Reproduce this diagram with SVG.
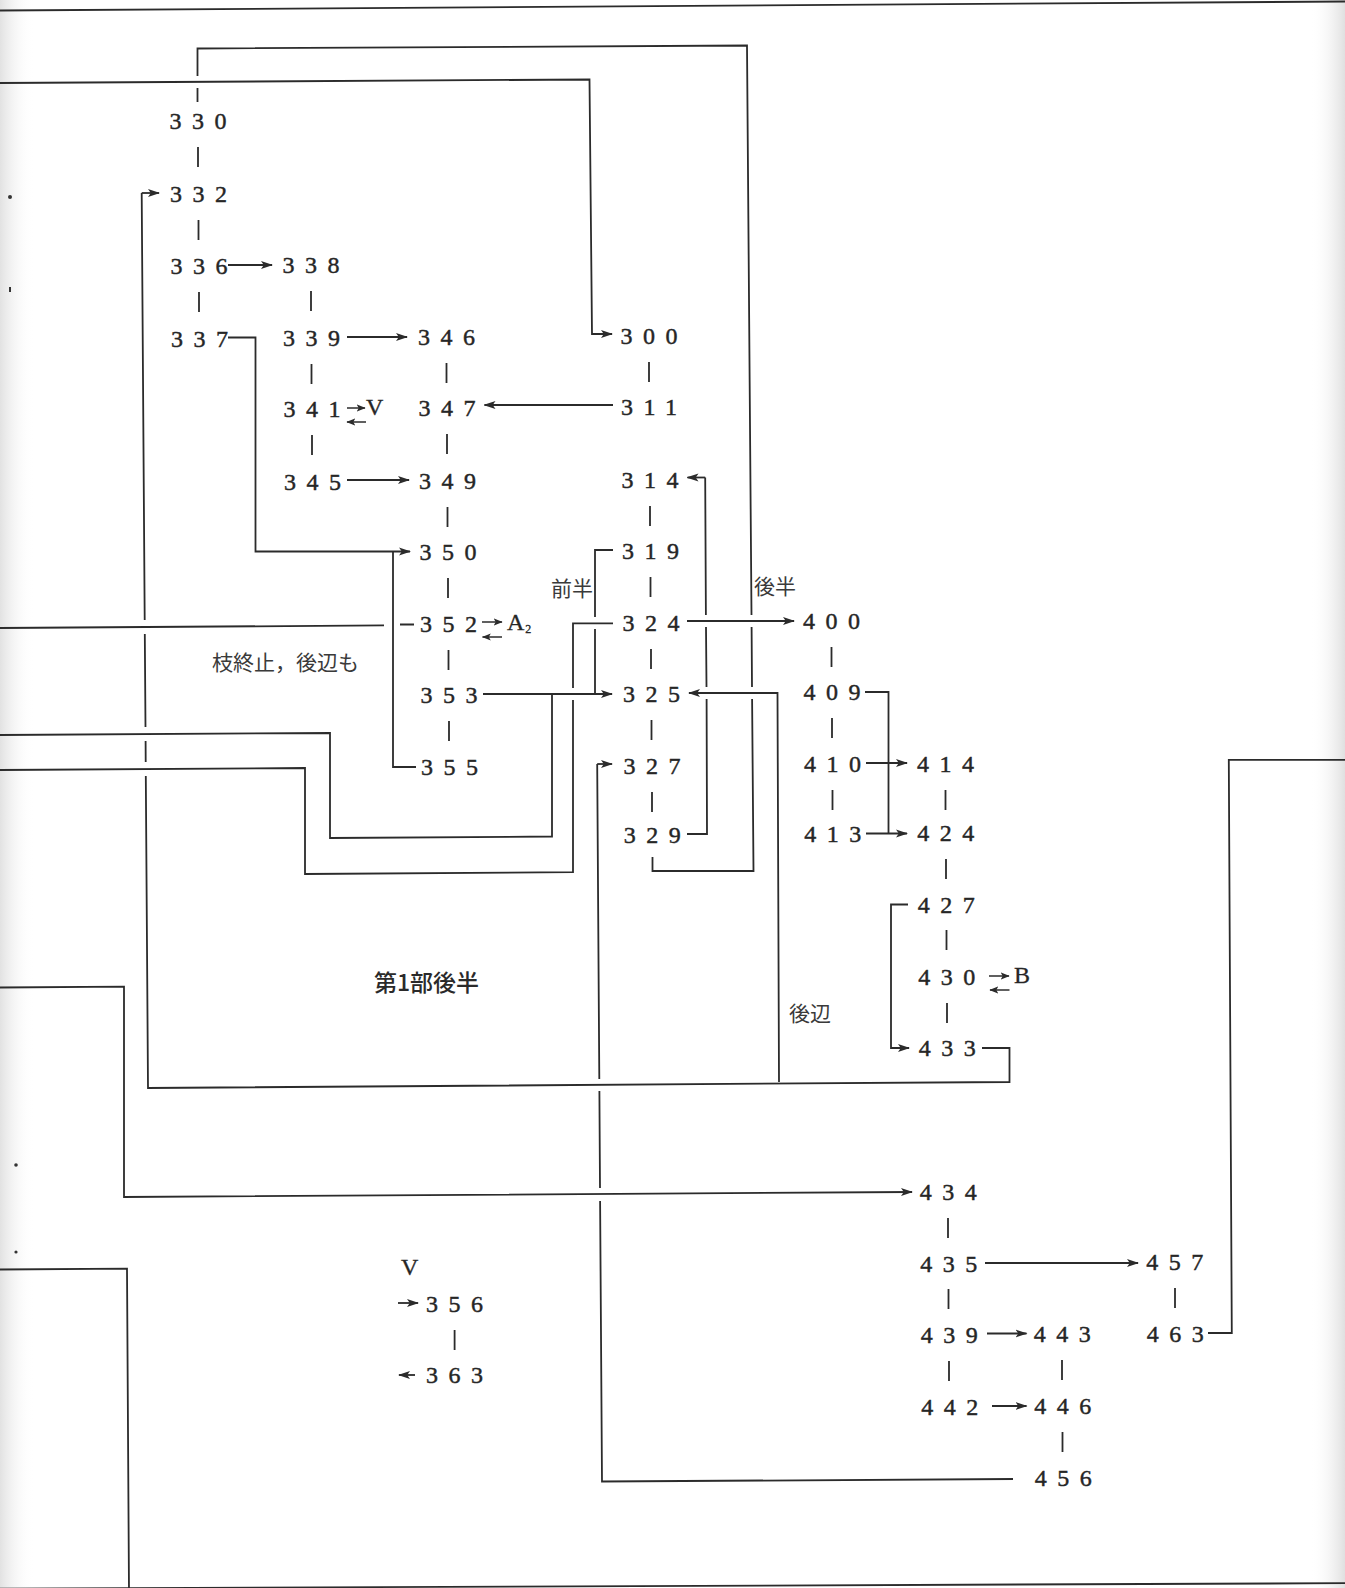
<svg xmlns="http://www.w3.org/2000/svg" width="1345" height="1588" viewBox="0 0 1345 1588">
<style>
.ln{fill:none;stroke:#2b2b2b;stroke-width:1.8}
.tk{fill:none;stroke:#2b2b2b;stroke-width:1.8}
.ar{marker-end:url(#ah)}
.sa{marker-end:url(#as)}
.sm{fill:none;stroke:#2b2b2b;stroke-width:1.5}
.node text{font-family:"Liberation Serif",serif;font-size:24px;letter-spacing:10.5px;fill:#262626;stroke:#262626;stroke-width:0.45}
.ltr{font-family:"Liberation Serif",serif;font-size:24px;fill:#262626;stroke:#262626;stroke-width:0.3}
.lbl{font-family:"Noto Sans CJK JP","Noto Sans CJK SC",sans-serif;font-size:21px;fill:#3a3a3a}
.ttl{font-family:"Noto Sans CJK JP","Noto Sans CJK SC",sans-serif;font-size:23px;font-weight:500;fill:#2a2a2a}
</style>
<defs>
<marker id="ah" viewBox="0 0 12 9" refX="11" refY="4.5" markerWidth="12" markerHeight="9" orient="auto" markerUnits="userSpaceOnUse"><path d="M0,0.5 L12,4.5 L0,8.5 L2.8,4.5 Z" fill="#2b2b2b"/></marker>
<marker id="as" viewBox="0 0 9 8" refX="8.3" refY="4" markerWidth="9" markerHeight="8" orient="auto" markerUnits="userSpaceOnUse"><path d="M0,0.4 L9,4 L0,7.6 L2,4 Z" fill="#2b2b2b"/></marker>
<linearGradient id="lg" x1="0" x2="1" y1="0" y2="0"><stop offset="0" stop-color="#e2e2e2"/><stop offset="1" stop-color="#ffffff" stop-opacity="0"/></linearGradient>
<linearGradient id="rg" x1="0" x2="1" y1="0" y2="0"><stop offset="0" stop-color="#ffffff" stop-opacity="0"/><stop offset="1" stop-color="#e0e0e0"/></linearGradient>
</defs>
<rect width="1345" height="1588" fill="#ffffff"/>
<rect x="0" y="0" width="34" height="1588" fill="url(#lg)"/>
<rect x="1310" y="0" width="35" height="1588" fill="url(#rg)"/>
<g id="scan-marks" fill="#333">
<circle cx="10" cy="197" r="2"/>
<rect x="9" y="287" width="2" height="5"/>
<circle cx="16" cy="1165" r="1.8"/>
<circle cx="16" cy="1252" r="1.6"/>
</g>
<g id="border" class="ln" stroke-width="2.4">
<path d="M0,10.5 L1345,1.5"/>
<path d="M0,1588.6 L1345,1583.2"/>
</g>
<g id="connectors">
<path class="ln" d="M197.5,102 V88 M197.5,76 V48.5 L747,45.5 L751.5,615 M751.6,627 L752,687 M752.1,699 L753.5,871 H652.5 V857"/>
<path class="ln ar" d="M0,83 L589.5,79.5 L592,334 H612"/>
<path class="ln" d="M982,1048 H1009.5 V1082 L148,1088 L145.8,776 M145.7,762 L145.6,741 M145.5,727 L144.8,634 M144.7,620 L141.7,193"/>
<path class="ln ar" d="M141.7,193 H159"/>
<path class="ln ar" d="M779,1082 L777.5,693 H689"/>
<path class="ln" d="M687,834 H707 L706.6,699 M706.5,687 L706,627 M705.9,615 L705.2,477.5"/>
<path class="ln ar" d="M705.2,477.5 H687.5"/>
<path class="ln ar" d="M687,621 H794"/>
<path class="ln ar" d="M613,405 H484.5"/>
<path class="ln ar" d="M228,265 H272"/>
<path class="ln ar" d="M347,337 H407"/>
<path class="ln ar" d="M347,480 H409"/>
<path class="ln ar" d="M228,337.5 H255.5 V551.5 H410"/>
<path class="ln" d="M416,767 H393 V551.5"/>
<path class="ln" d="M0,628 L384,625.4 M400,624.5 H414"/>
<path class="ln ar" d="M483,694 H612"/>
<path class="ln" d="M0,735 L330,733 V838 L552,836.5 V694"/>
<path class="ln" d="M0,770 L305,768 V874 L573,872.2 V700 M573,688 V623.3 H613"/>
<path class="ln" d="M613,550 H595 V617 M595,629 V694"/>
<path class="ln" d="M1013,1479 L602,1481.5 L600.1,1201 M600,1188 L599.4,1091 M599.3,1079 L597.2,764"/>
<path class="ln ar" d="M597.2,764 H612"/>
<path class="ln" d="M865,692 H888.5 V834"/>
<path class="ln ar" d="M866,763 H907"/>
<path class="ln ar" d="M866,833.5 H907"/>
<path class="ln ar" d="M908,904.5 H891 V1048 H909"/>
<path class="ln ar" d="M0,987.5 L124,986.7 V1197 L912,1192"/>
<path class="ln" d="M0,1269.5 L127,1268.6 L129,1592"/>
<path class="ln ar" d="M985,1263 H1138"/>
<path class="ln ar" d="M987,1333.5 H1026.5"/>
<path class="ln ar" d="M992,1406 H1026.5"/>
<path class="ln" d="M1208,1333 H1231.8 L1228.8,759.8 H1345"/>
<path class="ln ar" d="M398,1303 H418"/>
<path class="ln ar" d="M415,1375 H399"/>
<path class="sm sa" d="M347,408 H365"/>
<path class="sm sa" d="M366,422 H347"/>
<path class="sm sa" d="M482,622 H502"/>
<path class="sm sa" d="M502,637 H482.5"/>
<path class="sm sa" d="M989,976 H1009"/>
<path class="sm sa" d="M1009.5,990 H990"/>
<g class="tk">
<path d="M198,147 V167 M198.5,220 V240 M199,292 V312"/>
<path d="M311,291 V311 M311.5,364 V384 M312,435 V455"/>
<path d="M446.5,363 V383 M447,434 V454 M447.5,507 V527 M448,578 V598 M448.5,650 V670 M449,721 V741"/>
<path d="M649,362 V382 M650,506 V526 M650.5,577 V597 M651,649 V669 M651.5,720 V740 M652,792 V812"/>
<path d="M831.5,647 V667 M832,718 V738 M832.5,790 V810"/>
<path d="M945.5,790 V810 M946,859 V879 M946.5,930 V950 M947,1003 V1023 M948,1218 V1238 M948.5,1289 V1309 M949,1361 V1381"/>
<path d="M1062,1360 V1380 M1062.5,1432 V1452"/>
<path d="M1175,1288 V1308"/>
<path d="M454.6,1330 V1350"/>
</g>
</g>
<g id="n330" class="node"><text x="169.5" y="129">330</text></g>
<g id="n332" class="node"><text x="170" y="202">332</text></g>
<g id="n336" class="node"><text x="170.5" y="274">336</text></g>
<g id="n337" class="node"><text x="171" y="347">337</text></g>
<g id="n338" class="node"><text x="282.5" y="273.2">338</text></g>
<g id="n339" class="node"><text x="283" y="346.2">339</text></g>
<g id="n341" class="node"><text x="283.5" y="417">341</text></g>
<g id="n345" class="node"><text x="284" y="490">345</text></g>
<g id="n346" class="node"><text x="418" y="345.3">346</text></g>
<g id="n347" class="node"><text x="418.5" y="416.1">347</text></g>
<g id="n349" class="node"><text x="419" y="489.1">349</text></g>
<g id="n350" class="node"><text x="419.4" y="560">350</text></g>
<g id="n352" class="node"><text x="419.9" y="632">352</text></g>
<g id="n353" class="node"><text x="420.4" y="703">353</text></g>
<g id="n355" class="node"><text x="420.9" y="775">355</text></g>
<g id="n300" class="node"><text x="620.5" y="343.9">300</text></g>
<g id="n311" class="node"><text x="621" y="414.7">311</text></g>
<g id="n314" class="node"><text x="621.5" y="487.7">314</text></g>
<g id="n319" class="node"><text x="621.9" y="558.6">319</text></g>
<g id="n324" class="node"><text x="622.4" y="630.6">324</text></g>
<g id="n325" class="node"><text x="622.9" y="701.6">325</text></g>
<g id="n327" class="node"><text x="623.4" y="773.6">327</text></g>
<g id="n329" class="node"><text x="623.8" y="843">329</text></g>
<g id="n400" class="node"><text x="802.9" y="629.4">400</text></g>
<g id="n409" class="node"><text x="803.4" y="700.4">409</text></g>
<g id="n410" class="node"><text x="803.9" y="772.4">410</text></g>
<g id="n413" class="node"><text x="804.3" y="841.8">413</text></g>
<g id="n414" class="node"><text x="916.9" y="771.7">414</text></g>
<g id="n424" class="node"><text x="917.3" y="841.1">424</text></g>
<g id="n427" class="node"><text x="917.8" y="912.5">427</text></g>
<g id="n430" class="node"><text x="918.3" y="984.6">430</text></g>
<g id="n433" class="node"><text x="918.8" y="1056.4">433</text></g>
<g id="n434" class="node"><text x="919.7" y="1199.9">434</text></g>
<g id="n435" class="node"><text x="920.2" y="1271.5">435</text></g>
<g id="n439" class="node"><text x="920.7" y="1343.2">439</text></g>
<g id="n442" class="node"><text x="921.2" y="1415">442</text></g>
<g id="n443" class="node"><text x="1033.7" y="1342.4">443</text></g>
<g id="n446" class="node"><text x="1034.2" y="1414.2">446</text></g>
<g id="n456" class="node"><text x="1034.7" y="1485.9">456</text></g>
<g id="n457" class="node"><text x="1146.2" y="1270">457</text></g>
<g id="n463" class="node"><text x="1146.7" y="1341.7">463</text></g>
<g id="n356" class="node"><text x="426" y="1312">356</text></g>
<g id="n363" class="node"><text x="426" y="1383">363</text></g>
<g id="tV1"><text class="ltr" x="366" y="415">V</text></g>
<g id="tA2"><text class="ltr" x="507" y="630">A<tspan font-size="12" dy="3" dx="1">2</tspan></text></g>
<g id="tB"><text class="ltr" x="1014" y="983">B</text></g>
<g id="tV2"><text class="ltr" x="401" y="1275">V</text></g>
<g id="labels">
<text class="lbl" x="551" y="596">前半</text>
<text class="lbl" x="754" y="594">後半</text>
<text class="lbl" x="212" y="670" font-size="22">枝終止，後辺も</text>
<text class="lbl" x="789" y="1021" font-size="22">後辺</text>
<text class="ttl" x="374" y="991">第1部後半</text>
</g>
</svg>
